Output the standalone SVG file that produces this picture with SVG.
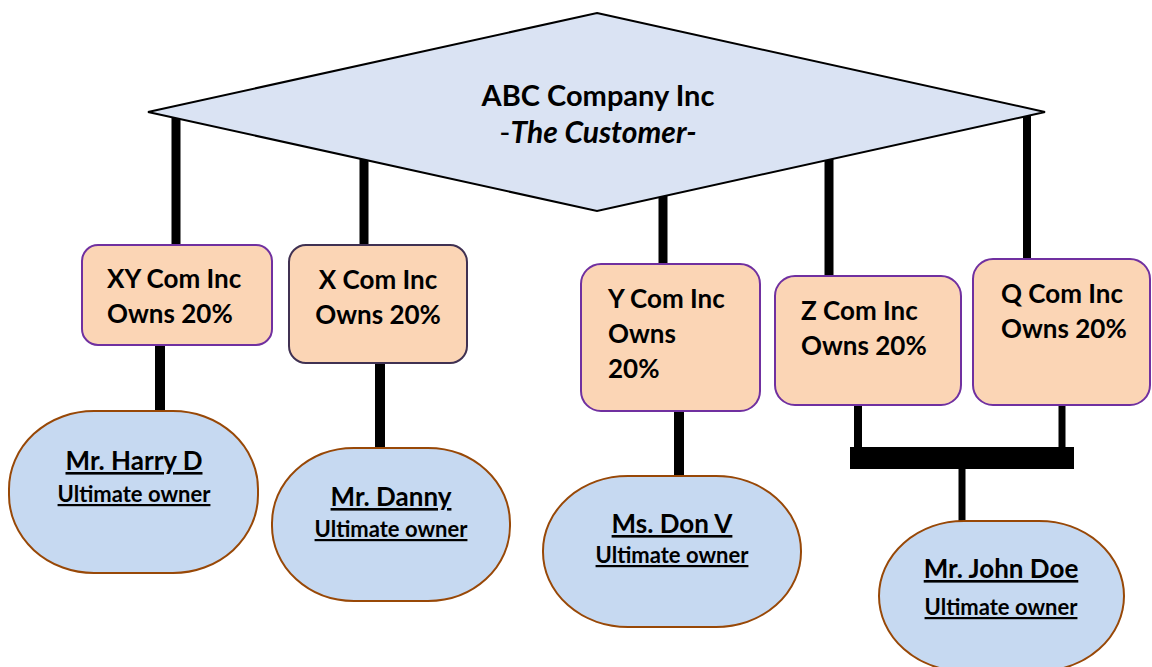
<svg xmlns="http://www.w3.org/2000/svg" width="1152" height="667" viewBox="0 0 1152 667">
  <style>
    text { font-family: Lato, "Open Sans", "Liberation Sans", sans-serif; font-weight: bold; fill: #000; }
    .title { font-size: 29px; }
    .sub { font-size: 30px; }
    .co { font-size: 26px; }
    .name { font-size: 26px; text-decoration: underline; }
    .role { font-size: 22px; text-decoration: underline; }
    .company { fill: #fbd5b5; stroke: #7030a0; stroke-width: 2; }
    .owner { fill: #c6d9f1; stroke: #984807; stroke-width: 2; }
    .link { stroke: #000; fill: none; }
  </style>

  <!-- connectors -->
  <g id="connectors">
    <line class="link" x1="176" y1="112" x2="176" y2="247" stroke-width="9"/>
    <line class="link" x1="364" y1="150" x2="364" y2="247" stroke-width="9"/>
    <line class="link" x1="663" y1="190" x2="663" y2="266" stroke-width="9"/>
    <line class="link" x1="829" y1="150" x2="829" y2="278" stroke-width="9"/>
    <line class="link" x1="1027" y1="110" x2="1027" y2="261" stroke-width="8"/>

    <line class="link" x1="160" y1="344" x2="160" y2="413" stroke-width="10"/>
    <line class="link" x1="380" y1="361" x2="380" y2="450" stroke-width="10"/>
    <line class="link" x1="679" y1="409" x2="679" y2="478" stroke-width="10"/>

    <line class="link" x1="858" y1="403" x2="858" y2="450" stroke-width="8"/>
    <line class="link" x1="1062" y1="403" x2="1062" y2="450" stroke-width="7"/>
    <rect x="850" y="447" width="224" height="22" fill="#000"/>
    <line class="link" x1="962" y1="467" x2="962" y2="523" stroke-width="7"/>
  </g>

  <!-- customer -->
  <g id="customer">
    <polygon points="597,13 1045,112 597,211 148,112" fill="#dae3f3" stroke="#000" stroke-width="2"/>
    <text class="title" x="598" y="106" text-anchor="middle">ABC Company Inc</text>
    <text class="sub" x="598" y="143" text-anchor="middle"><tspan font-weight="normal">-</tspan><tspan font-style="italic">The Customer-</tspan></text>
  </g>

  <!-- intermediate companies -->
  <g id="xy-com">
    <rect class="company" x="82" y="245" width="190" height="100" rx="16" ry="16"/>
    <text class="co" x="107" y="288">XY Com Inc</text>
    <text class="co" x="107" y="323">Owns 20%</text>
  </g>
  <g id="x-com">
    <rect class="company" x="289" y="245" width="178" height="118" rx="17" ry="17" style="stroke:#403152"/>
    <text class="co" x="378" y="289" text-anchor="middle">X Com Inc</text>
    <text class="co" x="378" y="324" text-anchor="middle">Owns 20%</text>
  </g>
  <g id="y-com">
    <rect class="company" x="581" y="264" width="179" height="147" rx="20" ry="20"/>
    <text class="co" x="608" y="308">Y Com Inc</text>
    <text class="co" x="608" y="343">Owns</text>
    <text class="co" x="608" y="378">20%</text>
  </g>
  <g id="z-com">
    <rect class="company" x="775" y="276" width="186" height="129" rx="20" ry="20"/>
    <text class="co" x="801" y="320">Z Com Inc</text>
    <text class="co" x="801" y="355">Owns 20%</text>
  </g>
  <g id="q-com">
    <rect class="company" x="973" y="259" width="177" height="146" rx="20" ry="20"/>
    <text class="co" x="1001" y="303">Q Com Inc</text>
    <text class="co" x="1001" y="338">Owns 20%</text>
  </g>

  <!-- ultimate owners -->
  <g id="harry">
    <rect class="owner" x="9" y="411" width="249" height="162" rx="85" ry="78"/>
    <text class="name" x="134" y="470" text-anchor="middle">Mr. Harry D</text>
    <text class="role" x="134" y="502" text-anchor="middle">Ultimate owner</text>
  </g>
  <g id="danny">
    <rect class="owner" x="272" y="448" width="238" height="153" rx="82" ry="75"/>
    <text class="name" x="391" y="506" text-anchor="middle">Mr. Danny</text>
    <text class="role" x="391" y="537" text-anchor="middle">Ultimate owner</text>
  </g>
  <g id="don">
    <rect class="owner" x="543" y="476" width="258" height="151" rx="85" ry="75"/>
    <text class="name" x="672" y="533" text-anchor="middle">Ms. Don V</text>
    <text class="role" x="672" y="563" text-anchor="middle">Ultimate owner</text>
  </g>
  <g id="john">
    <rect class="owner" x="879" y="521" width="245" height="150" rx="85" ry="75"/>
    <text class="name" x="1001" y="578" text-anchor="middle">Mr. John Doe</text>
    <text class="role" x="1001" y="615" text-anchor="middle">Ultimate owner</text>
  </g>
</svg>
